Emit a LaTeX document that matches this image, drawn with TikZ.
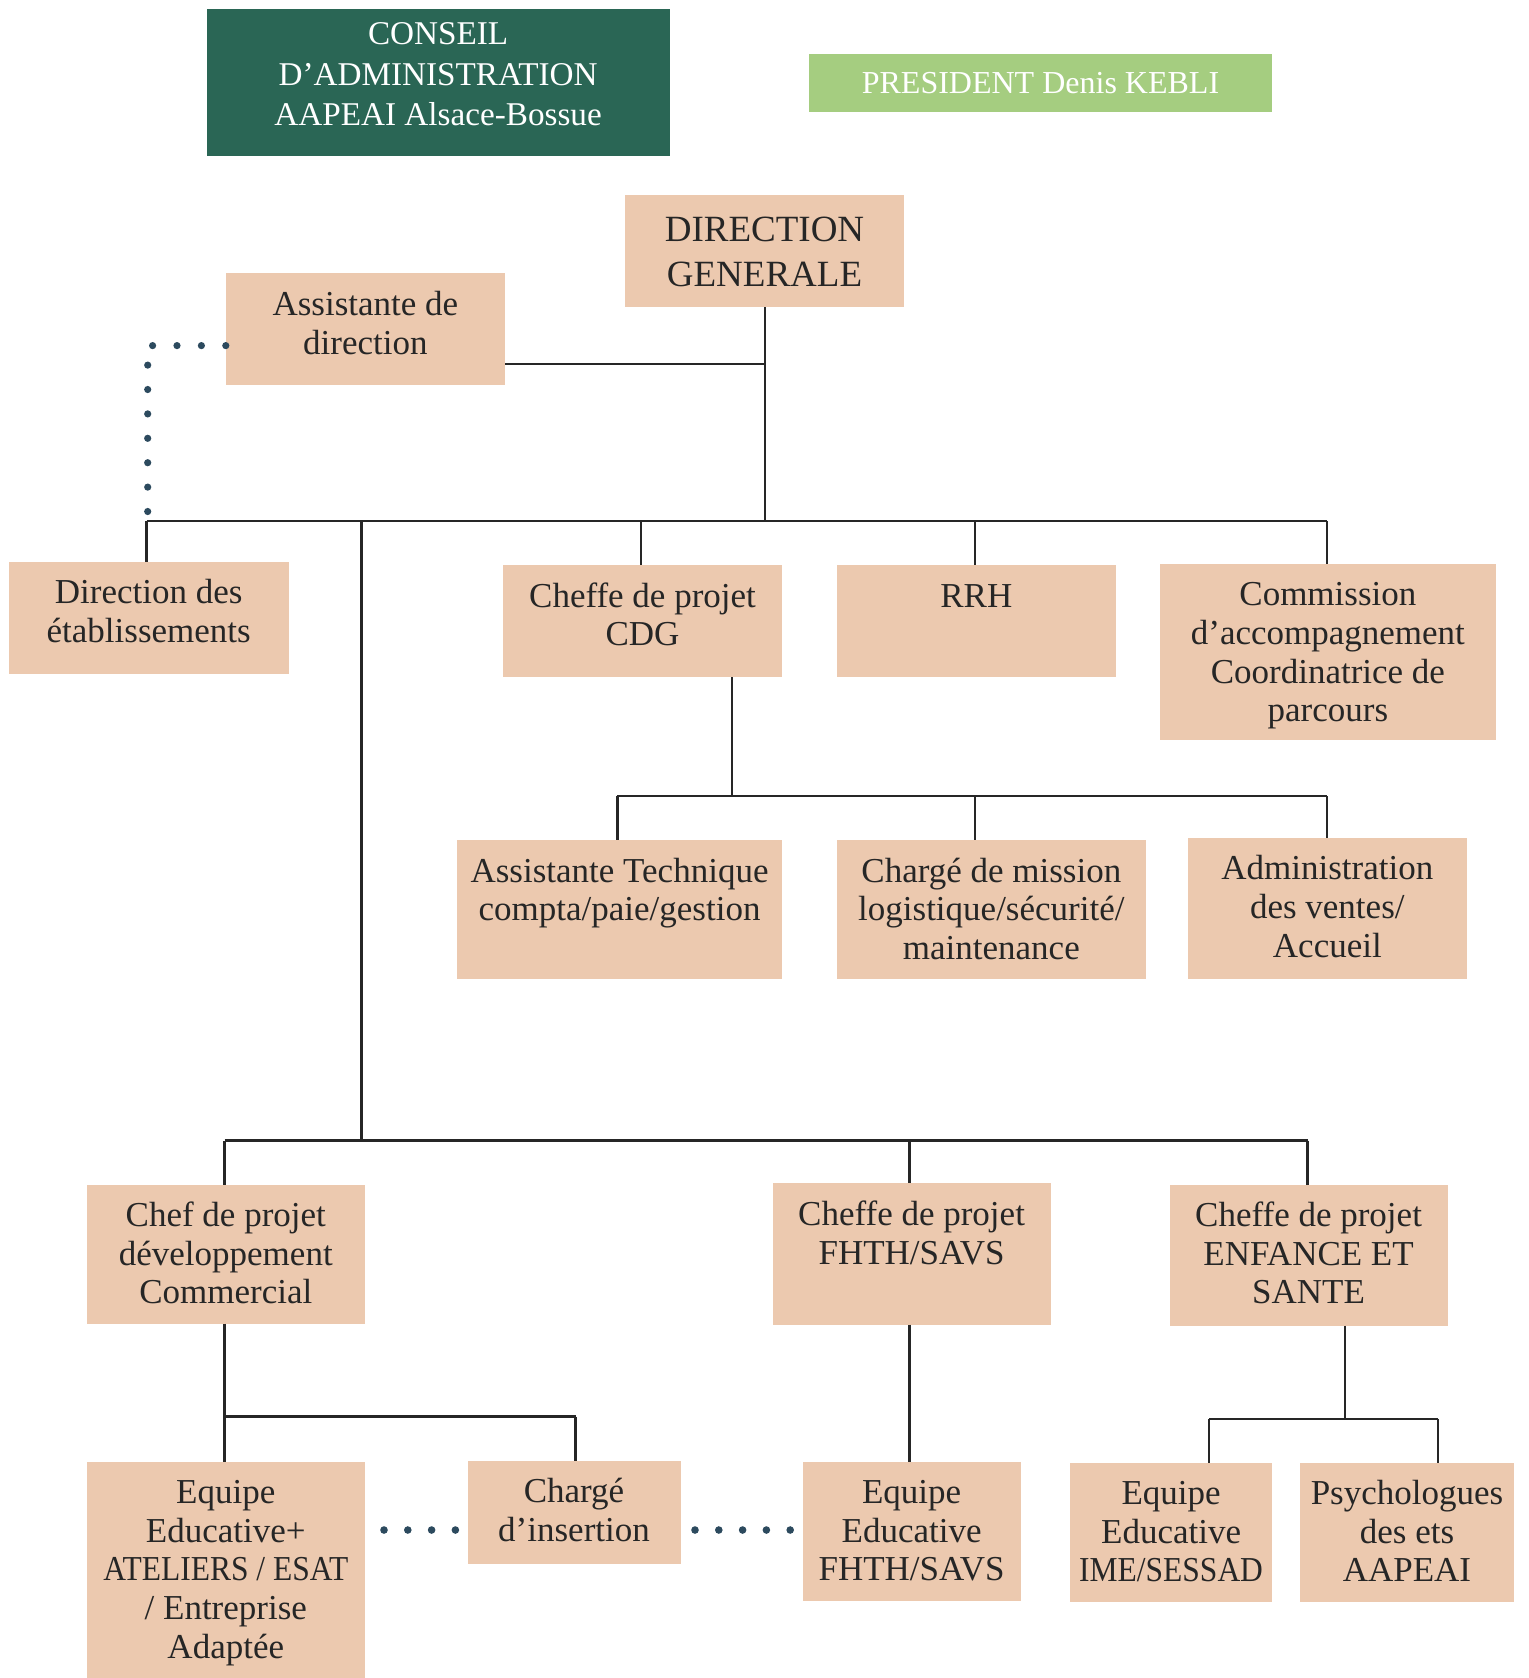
\documentclass[tikz,border=0pt]{standalone}
\usepackage{fontspec}
\setmainfont{Liberation Serif}
\definecolor{dkgreen}{RGB}{42,102,85}
\definecolor{ltgreen}{RGB}{165,205,128}
\definecolor{peach}{RGB}{236,201,175}
\definecolor{ink}{RGB}{38,38,38}
\definecolor{dotc}{RGB}{44,74,94}
% #1 name, #2 x1, #3 y1, #4 x2, #5 y2, #6 style, #7 first-baseline offset (pt), #8 text
\newcommand\obox[8]{%
  \node[#6, inner sep=0pt, outer sep=0pt, anchor=north west] (#1) at (#2,#3)
  {\parbox[t][\dimexpr(#5pt-#3pt)/2\relax][t]{\dimexpr(#4pt-#2pt)/2\relax}{\centering\rule{0pt}{#7pt}#8\par}};}
\newcommand\narrow[1]{\scalebox{0.9}[1]{#1}}
\tikzset{
  pbox/.style={fill=peach, text=ink, font=\fontsize{17.5}{19.3}\selectfont},
  dgbox/.style={fill=peach, text=ink, font=\fontsize{18.5}{22.5}\selectfont},
  cbox/.style={fill=dkgreen, text=white, font=\fontsize{16.6}{20.3}\selectfont},
  link/.style={draw=ink, line width=1.25pt},
  dotlink/.style={draw=dotc, line width=3.6pt, line cap=round, dash pattern=on 0pt off 12.2pt},
  dotlinkb/.style={draw=dotc, line width=3.8pt, line cap=round, dash pattern=on 0pt off 11.9pt},
}
\begin{document}
\begin{tikzpicture}[x=0.5pt, y=-0.5pt]
\useasboundingbox (0,0) rectangle (1529,1678);
% top boxes
\obox{ca}{206.5}{8.6}{669.8}{156.2}{cbox}{18}{CONSEIL\\D’ADMINISTRATION\\AAPEAI Alsace-Bossue}
\node[fill=ltgreen, text=white, font=\fontsize{16}{19}\selectfont, inner sep=0pt,
      minimum width=231.6pt, minimum height=29.4pt] (pres) at (1040.5,82.9) {PRESIDENT Denis KEBLI};
% level 1
\obox{dg}{624.9}{194.7}{904.1}{307.1}{dgbox}{23.5}{DIRECTION\\GENERALE}
\obox{ad}{225.8}{272.8}{505.0}{385.2}{pbox}{21.5}{Assistante de\\direction}
% level 2
\obox{de}{8.6}{561.7}{288.9}{674.1}{pbox}{21}{Direction des\\établissements}
\obox{cdg}{502.9}{565}{782.2}{677.3}{pbox}{21}{Cheffe de projet\\CDG}
\obox{rrh}{836.7}{565}{1116}{677.3}{pbox}{21}{RRH}
\obox{com}{1159.9}{563.9}{1495.9}{740.4}{pbox}{21}{Commission\\d’accompagnement\\Coordinatrice de\\parcours}
% level 3
\obox{at}{456.9}{840}{782.2}{979}{pbox}{21}{Assistante Technique\\compta/paie/gestion}
\obox{cm}{836.7}{840}{1146}{979}{pbox}{21}{Chargé de mission\\logistique/sécurité/\\maintenance}
\obox{av}{1187.7}{837.8}{1467}{979}{pbox}{21}{Administration\\des ventes/\\Accueil}
% level 4
\obox{cpd}{86.7}{1184.5}{364.9}{1323.6}{pbox}{21}{Chef de projet\\développement\\Commercial}
\obox{cpf}{772.5}{1183.4}{1050.7}{1324.7}{pbox}{21}{Cheffe de projet\\FHTH/SAVS}
\obox{cpe}{1169.5}{1184.5}{1447.7}{1325.7}{pbox}{21}{Cheffe de projet\\ENFANCE ET\\SANTE}
% level 5
\obox{eea}{86.7}{1461.6}{364.9}{1678}{pbox}{21}{Equipe\\Educative+\\\narrow{ATELIERS / ESAT}\\/ Entreprise\\Adaptée}
\obox{ci}{467.6}{1460.5}{680.5}{1564.3}{pbox}{21}{Chargé\\d’insertion}
\obox{eef}{802.5}{1461.6}{1020.8}{1600.7}{pbox}{21}{Equipe\\Educative\\FHTH/SAVS}
\obox{eei}{1070}{1462.7}{1272.2}{1601.8}{pbox}{21}{Equipe\\Educative\\\narrow{IME/SESSAD}}
\obox{psy}{1300}{1462.7}{1514}{1601.8}{pbox}{21}{Psychologues\\des ets\\AAPEAI}
% junction coordinates
\coordinate (b1l) at (146.6,521);
\coordinate (b1r) at (1326.8,521);
\coordinate (b1m) at (765,521);
\coordinate (adj) at (765,363.8);
\coordinate (b2l) at (617.4,796);
\coordinate (b2r) at (1326.8,796);
\coordinate (b2m) at (731.9,796);
\coordinate (b3l) at (224.7,1140.6);
\coordinate (b3r) at (1307.5,1140.6);
\coordinate (b3m) at (361.6,1140.6);
\coordinate (b3t) at (361.6,521);
\coordinate (b4l) at (224.7,1416.7);
\coordinate (b4r) at (575.7,1416.7);
\coordinate (b5l) at (1209,1418.8);
\coordinate (b5r) at (1438,1418.8);
\coordinate (b5m) at (1345,1418.8);
\coordinate (dc) at (147.7,345.6);
\coordinate (d1a) at (384,1530);
\coordinate (d1b) at (461,1530);
\coordinate (d2a) at (695,1530);
\coordinate (d2b) at (795,1530);
% solid connectors
\draw[link] (dg.south -| b1m) -- (b1m);
\draw[link] (ad.east |- adj) -- (adj);
\draw[link] (b1l) -- (b1r);
\draw[link] (b1l) -- (b1l |- de.north);
\draw[link] (640.9,521) -- (640.9,565);
\draw[link] (974.8,521) -- (974.8,565);
\draw[link] (b1r) -- (b1r |- com.north);
\draw[link] (b3t) -- (b3m);
\draw[link] (cdg.south -| b2m) -- (b2m);
\draw[link] (b2l) -- (b2r);
\draw[link] (b2l) -- (b2l |- at.north);
\draw[link] (974.8,796) -- (974.8,840);
\draw[link] (b2r) -- (b2r |- av.north);
\draw[link] (b3l) -- (b3r);
\draw[link] (b3l) -- (b3l |- cpd.north);
\draw[link] (909.5,1140.6) -- (909.5,1183.4);
\draw[link] (b3r) -- (b3r |- cpe.north);
\draw[link] (cpd.south -| b4l) -- (b4l |- eea.north);
\draw[link] (b4l) -- (b4r);
\draw[link] (b4r) -- (b4r |- ci.north);
\draw[link] (cpf.south -| 909.5,0) -- (909.5,1461.6);
\draw[link] (cpe.south -| b5m) -- (b5m);
\draw[link] (b5l) -- (b5r);
\draw[link] (b5l) -- (b5l |- eei.north);
\draw[link] (b5r) -- (b5r |- psy.north);
% dotted connectors
\draw[dotlink] (ad.west |- dc) -- (dc) -- (dc |- b1l);
\draw[dotlinkb] (d1a) -- (d1b);
\draw[dotlinkb] (d2a) -- (d2b);
\end{tikzpicture}
\end{document}
